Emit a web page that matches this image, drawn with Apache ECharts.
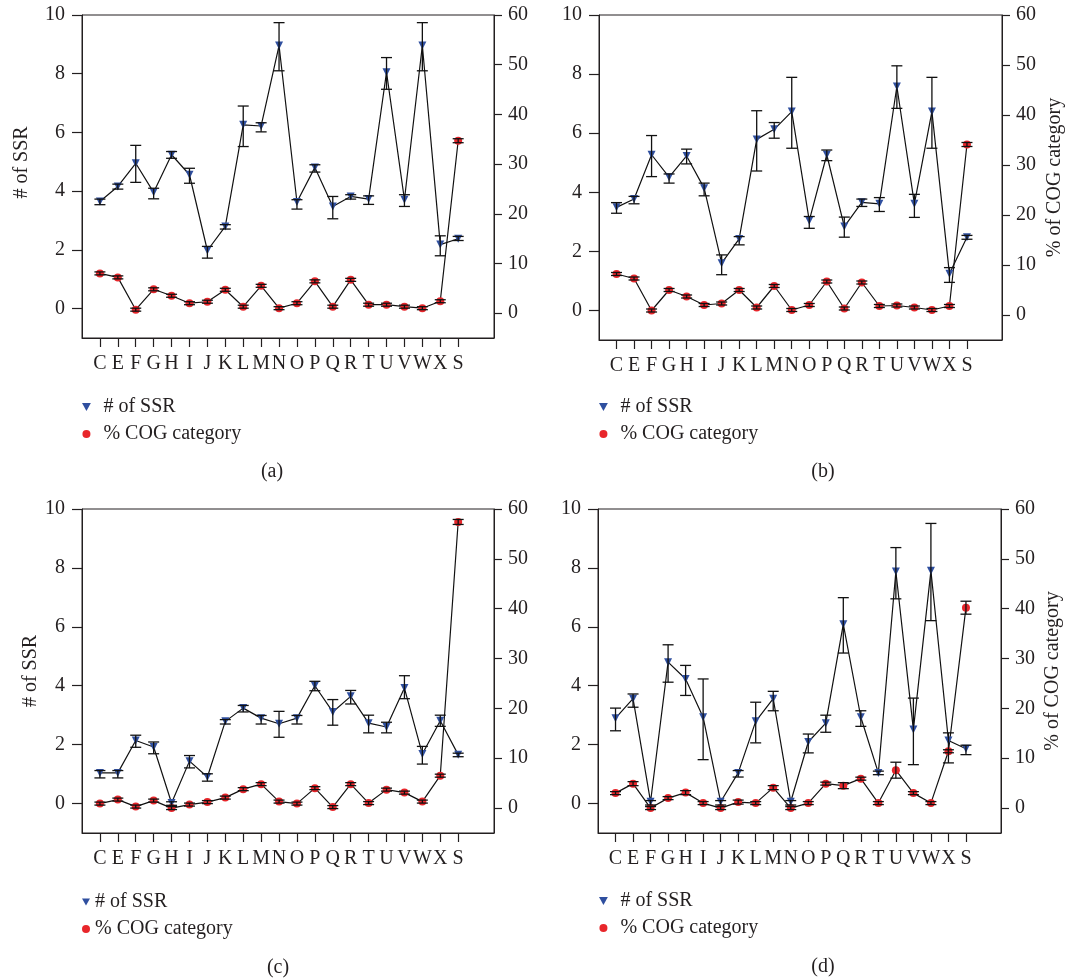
<!DOCTYPE html>
<html>
<head>
<meta charset="utf-8">
<script src="https://cdn.jsdelivr.net/npm/echarts@6/dist/echarts.min.js"></script>
<style>html,body{margin:0;padding:0;background:#fff}#c{width:1087px;height:979px}</style>
</head>
<body>
<div id="c"></div>
<script>
const categories = ['C','E','F','G','H','I','J','K','L','M','N','O','P','Q','R','T','U','V','W','X','S'];
const leftTicks = [0, 2, 4, 6, 8, 10];
const rightTicks = [0, 10, 20, 30, 40, 50, 60];
const panelLabels = ['(a)', '(b)', '(c)', '(d)'];

// Panel (a)
const ssrA    = [3.65,4.16,4.95,3.96,5.24,4.56,1.98,2.80,6.26,6.22,8.96,3.63,4.81,3.48,3.82,3.73,8.05,3.71,8.96,2.18,2.38];
const ssrALow = [3.54,4.07,4.30,3.74,5.12,4.27,1.72,2.71,5.52,6.02,8.10,3.39,4.65,3.06,3.73,3.55,7.47,3.48,8.10,1.80,2.32];
const ssrAHigh= [3.73,4.24,5.56,4.10,5.35,4.78,2.12,2.86,6.90,6.33,9.74,3.71,4.90,3.82,3.88,3.84,8.55,3.88,9.74,2.48,2.46];
const cogA    = [8.0,7.2,0.7,4.8,3.5,2.0,2.3,4.7,1.3,5.5,1.0,2.0,6.4,1.3,6.7,1.7,1.7,1.3,1.0,2.4,34.7];
const cogAErr = [0.3,0.3,0.3,0.3,0.3,0.3,0.3,0.3,0.3,0.3,0.3,0.3,0.3,0.3,0.3,0.3,0.3,0.3,0.3,0.3,0.4];

// Panel (b)
const ssrB    = [3.49,3.77,5.27,4.51,5.23,4.14,1.60,2.42,5.79,6.13,6.73,3.04,5.27,2.84,3.66,3.61,7.58,3.61,6.73,1.24,2.48];
const ssrBLow = [3.29,3.61,4.53,4.31,4.96,3.88,1.21,2.22,4.72,5.83,5.49,2.78,5.07,2.48,3.52,3.35,6.84,3.15,5.49,0.95,2.41];
const ssrBHigh= [3.65,3.86,5.92,4.62,5.46,4.31,1.88,2.50,6.76,6.36,7.89,3.18,5.43,3.16,3.77,3.82,8.28,3.93,7.89,1.45,2.54];
const cogB    = [8.2,7.3,0.9,5.0,3.7,2.0,2.3,5.0,1.5,5.8,1.0,2.0,6.7,1.3,6.5,1.8,1.9,1.5,1.0,1.8,34.1];
const cogBErr = [0.3,0.3,0.3,0.3,0.3,0.3,0.3,0.3,0.3,0.3,0.3,0.3,0.3,0.3,0.3,0.3,0.3,0.3,0.3,0.3,0.4];

// Panel (c)
const ssrC    = [1.04,1.04,2.14,1.92,0.02,1.44,0.90,2.79,3.24,2.90,2.71,2.90,4.00,3.11,3.64,2.73,2.60,3.92,1.68,2.81,1.66];
const ssrCLow = [0.87,0.87,1.91,1.69,-0.06,1.21,0.76,2.70,3.11,2.70,2.25,2.70,3.83,2.66,3.38,2.40,2.40,3.56,1.34,2.62,1.59];
const ssrCHigh= [1.12,1.12,2.32,2.09,0.06,1.63,1.01,2.85,3.33,2.99,3.13,2.99,4.15,3.53,3.84,3.00,2.76,4.34,1.94,3.00,1.71];
const cogC    = [0.9,1.7,0.3,1.5,0.0,0.7,1.2,2.1,3.8,4.8,1.3,0.9,4.0,0.2,4.8,1.0,3.7,3.1,1.3,6.5,57.4];
const cogCErr = [0.3,0.3,0.3,0.3,0.3,0.3,0.3,0.3,0.3,0.3,0.3,0.3,0.3,0.3,0.3,0.3,0.3,0.3,0.3,0.3,0.5];

// Panel (d)
const ssrD    = [2.90,3.56,0.06,4.80,4.23,2.93,0.06,1.04,2.79,3.56,0.06,2.09,2.73,6.09,2.93,1.04,7.88,2.51,7.90,2.14,1.86];
const ssrDLow = [2.47,3.27,-0.05,4.12,3.67,1.49,-0.05,0.90,2.06,3.15,-0.05,1.72,2.42,5.11,2.62,0.98,6.95,1.32,6.21,1.38,1.66];
const ssrDHigh= [3.24,3.72,0.10,5.39,4.69,4.23,0.10,1.12,3.44,3.81,0.10,2.36,3.00,6.99,3.15,1.10,8.69,3.58,9.51,2.40,1.98];
const cogD    = [3.0,4.9,0.0,2.0,3.1,1.0,0.0,1.2,1.0,4.1,0.0,1.0,4.9,4.5,5.9,1.0,7.6,3.0,1.0,11.4,40.2];
const cogDErr = [0.3,0.4,0.3,0.3,0.4,0.3,0.3,0.4,0.3,0.4,0.3,0.3,0.3,0.6,0.3,0.3,1.6,0.3,0.3,0.3,1.3];

const panels = [
  {ssr: ssrA, lo: ssrALow, hi: ssrAHigh, cog: cogA, err: cogAErr},
  {ssr: ssrB, lo: ssrBLow, hi: ssrBHigh, cog: cogB, err: cogBErr},
  {ssr: ssrC, lo: ssrCLow, hi: ssrCHigh, cog: cogC, err: cogCErr},
  {ssr: ssrD, lo: ssrDLow, hi: ssrDHigh, cog: cogD, err: cogDErr}
];

const FONT = "'Liberation Serif', 'DejaVu Serif', serif";
const TXT = '#231f20';
const BLUE = '#2f4f9f';
const RED = '#e8262b';
const FS = 20;

const grids = [
  {left: 82, top: 15, width: 412, height: 323},
  {left: 599, top: 15, width: 403, height: 325},
  {left: 82, top: 509, width: 412, height: 324},
  {left: 598, top: 509, width: 403, height: 324}
];
const leftNames = [
  {show: true, gap: 50, pad: [0, 0, 0, 28]},
  {show: false},
  {show: true, gap: 41, pad: 0},
  {show: false}
];
const rightNames = [
  {show: false},
  {show: true, gap: 43},
  {show: false},
  {show: true, gap: 42}
];
const legendPos = [
  {left: 82, top: 397, w: 24},
  {left: 599, top: 397, w: 24},
  {left: 82, top: 892, w: 8},
  {left: 599, top: 891, w: 24}
];
const labelPos = [[272, 472], [823, 472], [278, 968], [823, 967]];

const xIdx = categories.map((c, i) => i + 1);

function errRender(params, api) {
  const x = api.value(0), lo = api.value(1), hi = api.value(2);
  const p1 = api.coord([x, lo]), p2 = api.coord([x, hi]);
  const w = 5.5;
  const st = {stroke: '#111', lineWidth: 1.3};
  return {type: 'group', children: [
    {type: 'line', shape: {x1: p1[0], y1: p1[1], x2: p2[0], y2: p2[1]}, style: st},
    {type: 'line', shape: {x1: p1[0] - w, y1: p1[1], x2: p1[0] + w, y2: p1[1]}, style: st},
    {type: 'line', shape: {x1: p2[0] - w, y1: p2[1], x2: p2[0] + w, y2: p2[1]}, style: st}
  ]};
}

const axisLineStyle = {color: TXT, width: 1};
const tickStyle = {color: TXT, width: 1.2};
const xAxes = [], yAxes = [], series = [], legends = [], graphics = [];

grids.forEach((g, i) => {
  xAxes.push({
    type: 'value', gridIndex: i, min: 0, max: 23, position: 'bottom',
    axisLine: {show: true, onZero: false, lineStyle: axisLineStyle},
    axisTick: {show: true, inside: false, customValues: xIdx, length: 9, lineStyle: tickStyle},
    axisLabel: {customValues: xIdx, formatter: v => categories[v - 1] || '', margin: 16,
                color: TXT, fontFamily: FONT, fontSize: FS},
    splitLine: {show: false}
  });
  yAxes.push({
    type: 'value', gridIndex: i, position: 'left', min: -1, max: 10,
    name: leftNames[i].show ? '# of SSR' : '', nameLocation: 'middle', nameRotate: 90,
    nameGap: leftNames[i].gap || 0,
    nameTextStyle: {color: TXT, fontFamily: FONT, fontSize: FS, padding: leftNames[i].pad || 0},
    axisLine: {show: true, onZero: false, lineStyle: axisLineStyle},
    axisTick: {show: true, inside: false, customValues: leftTicks, length: 10, lineStyle: tickStyle},
    axisLabel: {customValues: leftTicks, margin: 17, color: TXT, fontFamily: FONT, fontSize: FS},
    splitLine: {show: false}
  });
  yAxes.push({
    type: 'value', gridIndex: i, position: 'right', min: -5, max: 60,
    name: rightNames[i].show ? '% of COG category' : '', nameLocation: 'middle', nameRotate: 90,
    nameGap: rightNames[i].gap || 0,
    nameTextStyle: {color: TXT, fontFamily: FONT, fontSize: FS},
    axisLine: {show: true, onZero: false, lineStyle: axisLineStyle},
    axisTick: {show: true, inside: false, customValues: rightTicks, length: 8, lineStyle: tickStyle},
    axisLabel: {customValues: rightTicks, margin: 14, color: TXT, fontFamily: FONT, fontSize: FS},
    splitLine: {show: false}
  });
  const p = panels[i];
  series.push({
    name: '# of SSR', type: 'line', xAxisIndex: i, yAxisIndex: 2 * i,
    data: p.ssr.map((v, k) => [xIdx[k], v]),
    symbol: 'triangle', symbolRotate: 180, symbolSize: 8, showAllSymbol: true,
    itemStyle: {color: BLUE}, lineStyle: {color: '#111', width: 1.2}, z: 2, animation: false
  });
  series.push({
    name: '% COG category', type: 'line', xAxisIndex: i, yAxisIndex: 2 * i + 1,
    data: p.cog.map((v, k) => [xIdx[k], v]),
    symbol: 'circle', symbolSize: 8, showAllSymbol: true,
    itemStyle: {color: RED}, lineStyle: {color: '#111', width: 1.2}, z: 2, animation: false
  });
  series.push({
    name: 'ssrErr' + i, type: 'custom', xAxisIndex: i, yAxisIndex: 2 * i,
    data: p.ssr.map((v, k) => [xIdx[k], p.lo[k], p.hi[k]]),
    encode: {x: 0, y: [1, 2]}, renderItem: errRender, z: 3, animation: false, silent: true
  });
  series.push({
    name: 'cogErr' + i, type: 'custom', xAxisIndex: i, yAxisIndex: 2 * i + 1,
    data: p.cog.map((v, k) => [xIdx[k], v - p.err[k], v + p.err[k]]),
    encode: {x: 0, y: [1, 2]}, renderItem: errRender, z: 3, animation: false, silent: true
  });
  legends.push({
    orient: 'vertical', left: legendPos[i].left, top: legendPos[i].top, padding: 0,
    itemWidth: legendPos[i].w, itemHeight: 8, itemGap: 7, selectedMode: false,
    textStyle: {color: TXT, fontFamily: FONT, fontSize: FS},
    data: [
      {name: '# of SSR', icon: 'path://M0,0L10,0L5,9Z', itemStyle: {color: BLUE}},
      {name: '% COG category', icon: 'circle', itemStyle: {color: RED}}
    ]
  });
  graphics.push({
    type: 'text', x: labelPos[i][0], y: labelPos[i][1],
    style: {text: panelLabels[i], fill: TXT, font: FS + 'px ' + FONT, textAlign: 'center', textVerticalAlign: 'middle'}
  });
});

const chart = echarts.init(document.getElementById('c'), null, {renderer: 'canvas'});
chart.setOption({
  backgroundColor: '#fff',
  animation: false,
  grid: grids.map(g => Object.assign({show: true, borderColor: TXT, borderWidth: 1, backgroundColor: 'transparent'}, g)),
  xAxis: xAxes,
  yAxis: yAxes,
  legend: legends,
  series: series,
  graphic: graphics
});
</script>
</body>
</html>
